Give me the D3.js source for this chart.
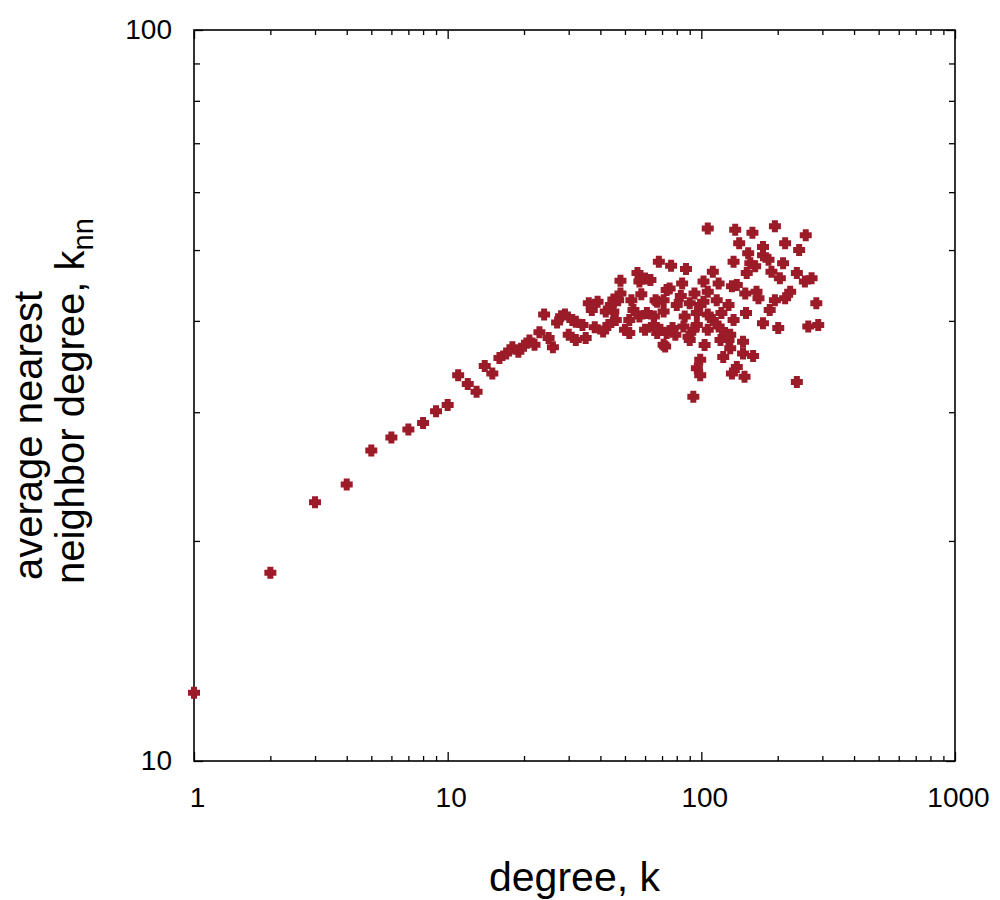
<!DOCTYPE html>
<html>
<head>
<meta charset="utf-8">
<script src="https://cdn.jsdelivr.net/npm/d3@7"></script>
<style>
  body { margin: 0; background: #fff; }
  svg text { font-family: "Liberation Sans", Arial, Helvetica, sans-serif; fill: #000; }
</style>
</head>
<body>
<div id="chart"></div>
<script>
// degree k and average nearest neighbor degree knn
var degree = [1,2,3,4,5,6,7,8,9,10,11,12,13,14,15,16,17,18,19,20,21,22,23,24,25,26,27,28,29,30,
  31,32,32,34,35,36,37,38,39,41,42,43,44,45,45,46,47,48,48,50,52,52,53,54,56,57,57,58,60,60,61,63,
  65,65,66,67,67,68,69,71,71,71,72,73,73,75,76,77,79,80,83,84,85,86,87,89,90,90,93,93,94,96,96,96,99,
  99,99,102,102,103,106,106,106,106,111,111,115,117,117,119,120,122,124,128,128,130,130,132,132,134,134,136,138,138,
  141,146,146,148,149,150,151,153,156,159,160,163,165,168,175,175,175,184,186,189,195,195,201,204,
  210,214,214,224,238,238,243,256,258,264,272,284,289];
var knn = [12.4,18.1,22.6,23.9,26.6,27.7,28.4,29.0,30.1,30.7,33.7,32.8,32.0,34.7,33.9,35.6,36.1,36.8,36.3,37.0,37.6,37.1,38.6,40.8,37.9,36.8,39.8,40.6,40.8,38.3,
  40.1,39.9,37.65,39.5,37.9,42.3,41.4,39.2,42.5,38.7,41.2,39.5,42.05,42.8,41.2,40.1,42.7,45.4,43.6,38.9,38.5,40.1,42.7,41.4,46.5,45.3,40.55,43.5,45.7,38.9,41.0,45.5,
  40.55,39.5,42.7,42.5,38.5,48.2,38.9,37.1,42.7,41.2,36.9,44.1,38.5,44.3,47.6,39.1,38.3,42.05,43.25,45.0,39.3,40.55,47.1,38.06,42.3,37.65,38.9,31.5,43.6,41.0,34.45,39.5,35.4,
  33.7,42.05,45.3,42.5,37.07,53.5,43.85,40.8,38.9,46.7,40.1,42.7,45.0,39.3,37.65,41.0,35.7,38.5,42.05,37.65,36.7,38.3,44.6,33.9,48.2,40.1,53.3,44.8,34.6,
  51.1,37.45,36.1,33.55,43.6,41.0,46.5,49.5,47.96,52.8,35.8,47.5,43.85,42.95,50.5,49.2,39.7,48.5,41.4,46.7,53.9,42.7,39.1,45.75,
  47.96,51.1,42.95,43.85,46.5,33.0,50.0,45.3,52.4,39.3,45.75,42.3,39.5];

var xMajor = [1, 10, 100, 1000];
var xMinor = [2,3,4,5,6,7,8,9,20,30,40,50,60,70,80,90,200,300,400,500,600,700,800,900];
var yMajor = [10, 100];
var yMinor = [20,30,40,50,60,70,80,90];

// plot box in pixels
var margin = {left: 194, top: 30, right: 955, bottom: 761};

var svg = d3.select("#chart").append("svg")
    .attr("width", 1000)
    .attr("height", 900);

var x = d3.scaleLog().domain([1, 1000]).range([margin.left, margin.right]);
var y = d3.scaleLog().domain([10, 100]).range([margin.bottom, margin.top]);

// ticks (inward, mirrored on all four sides)
function tickStyle(g) {
  g.select(".domain").remove();
  g.selectAll(".tick line").attr("stroke", "#000").attr("stroke-width", 1.3);
}

svg.append("g").attr("transform", `translate(0,${margin.bottom})`)
  .call(d3.axisBottom(x).tickValues(xMajor).tickSize(-9).tickSizeOuter(0)
    .tickPadding(26).tickFormat(d3.format("d")))
  .call(tickStyle)
  .selectAll("text").style("font-size", "28px").attr("dx", 3);
svg.append("g").attr("transform", `translate(0,${margin.bottom})`)
  .call(d3.axisBottom(x).tickValues(xMinor).tickSize(-5).tickSizeOuter(0).tickFormat(""))
  .call(tickStyle);
svg.append("g").attr("transform", `translate(0,${margin.top})`)
  .call(d3.axisTop(x).tickValues(xMajor).tickSize(-9).tickSizeOuter(0).tickFormat(""))
  .call(tickStyle);
svg.append("g").attr("transform", `translate(0,${margin.top})`)
  .call(d3.axisTop(x).tickValues(xMinor).tickSize(-5).tickSizeOuter(0).tickFormat(""))
  .call(tickStyle);

svg.append("g").attr("transform", `translate(${margin.left},0)`)
  .call(d3.axisLeft(y).tickValues(yMajor).tickSize(-9).tickSizeOuter(0)
    .tickPadding(22).tickFormat(d3.format("d")))
  .call(tickStyle)
  .selectAll("text").style("font-size", "28px").attr("dy", "0.3em");
svg.append("g").attr("transform", `translate(${margin.left},0)`)
  .call(d3.axisLeft(y).tickValues(yMinor).tickSize(-6).tickSizeOuter(0).tickFormat(""))
  .call(tickStyle);
svg.append("g").attr("transform", `translate(${margin.right},0)`)
  .call(d3.axisRight(y).tickValues(yMajor).tickSize(-9).tickSizeOuter(0).tickFormat(""))
  .call(tickStyle);
svg.append("g").attr("transform", `translate(${margin.right},0)`)
  .call(d3.axisRight(y).tickValues(yMinor).tickSize(-6).tickSizeOuter(0).tickFormat(""))
  .call(tickStyle);

// frame
svg.append("rect")
  .attr("x", margin.left).attr("y", margin.top)
  .attr("width", margin.right - margin.left).attr("height", margin.bottom - margin.top)
  .attr("fill", "none").attr("stroke", "#000").attr("stroke-width", 1.6);

// points: fat plus markers
var plus = "M-3,-6H3V-3H6V3H3V6H-3V3H-6V-3H-3Z";
svg.append("g").selectAll("path")
  .data(degree.map(function(k, i) { return {k: k, v: knn[i]}; }))
  .join("path")
    .attr("d", plus)
    .attr("fill", "#9b1c28")
    .attr("transform", function(d) { return `translate(${x(d.k)},${y(d.v)})`; });

// axis titles
svg.append("text")
  .attr("x", (margin.left + margin.right) / 2).attr("y", 891)
  .attr("text-anchor", "middle")
  .style("font-size", "41px")
  .text("degree, k");

var yt = svg.append("g").attr("transform", "rotate(-90)");
yt.append("text")
  .attr("x", -580).attr("y", 42)
  .style("font-size", "40px")
  .text("average nearest");
var t2 = yt.append("text")
  .attr("x", -584).attr("y", 84)
  .style("font-size", "40px");
t2.append("tspan").text("neighbor degree, k");
t2.append("tspan").style("font-size", "29px").attr("dy", 9).text("nn");
</script>
</body>
</html>
